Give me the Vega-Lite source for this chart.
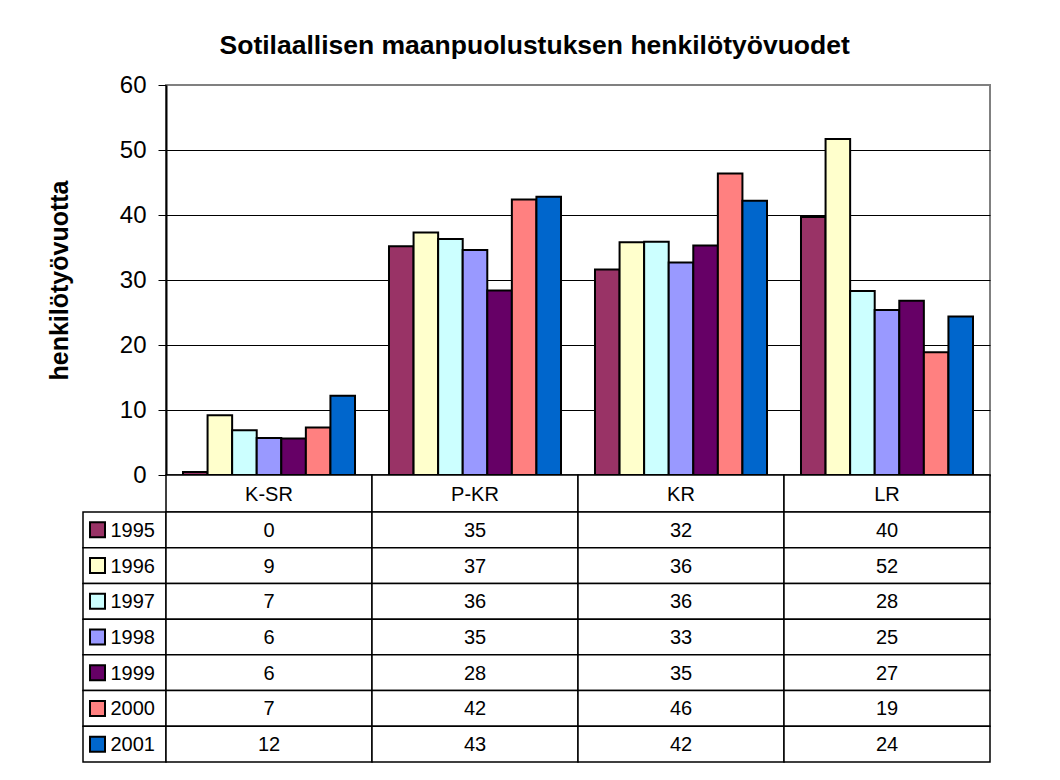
{
  "$schema": "https://vega.github.io/schema/vega-lite/v6.json",
  "background": "white",
  "padding": {"left": 46, "top": 32, "right": 5, "bottom": 5},
  "title": {"text": "Sotilaallisen maanpuolustuksen henkilötyövuodet", "fontSize": 26.5, "font": "Liberation Sans", "fontWeight": "bold", "color": "black", "anchor": "middle", "offset": 13, "dx": 16},
  "config": {"font": "Liberation Sans", "view": {"stroke": null}},
  "datasets": {
    "vals": [
      {"cat": "K-SR", "year": "1995", "v": 0.45},
      {"cat": "K-SR", "year": "1996", "v": 9.2},
      {"cat": "K-SR", "year": "1997", "v": 6.9},
      {"cat": "K-SR", "year": "1998", "v": 5.7},
      {"cat": "K-SR", "year": "1999", "v": 5.6},
      {"cat": "K-SR", "year": "2000", "v": 7.3},
      {"cat": "K-SR", "year": "2001", "v": 12.2},
      {"cat": "P-KR", "year": "1995", "v": 35.2},
      {"cat": "P-KR", "year": "1996", "v": 37.3},
      {"cat": "P-KR", "year": "1997", "v": 36.3},
      {"cat": "P-KR", "year": "1998", "v": 34.6},
      {"cat": "P-KR", "year": "1999", "v": 28.4},
      {"cat": "P-KR", "year": "2000", "v": 42.4},
      {"cat": "P-KR", "year": "2001", "v": 42.8},
      {"cat": "KR", "year": "1995", "v": 31.6},
      {"cat": "KR", "year": "1996", "v": 35.8},
      {"cat": "KR", "year": "1997", "v": 35.9},
      {"cat": "KR", "year": "1998", "v": 32.7},
      {"cat": "KR", "year": "1999", "v": 35.3},
      {"cat": "KR", "year": "2000", "v": 46.4},
      {"cat": "KR", "year": "2001", "v": 42.2},
      {"cat": "LR", "year": "1995", "v": 39.7},
      {"cat": "LR", "year": "1996", "v": 51.7},
      {"cat": "LR", "year": "1997", "v": 28.3},
      {"cat": "LR", "year": "1998", "v": 25.4},
      {"cat": "LR", "year": "1999", "v": 26.8},
      {"cat": "LR", "year": "2000", "v": 18.9},
      {"cat": "LR", "year": "2001", "v": 24.4}
    ]
  },
  "columns": 2,
  "spacing": 0,
  "bounds": "flush",
  "align": "each",
  "concat": [
    {
      "width": 83, "height": 390,
      "data": {"values": [{}]},
      "mark": {"type": "text", "text": ""},
      "encoding": {}
    },
    {
      "width": 824, "height": 390,
      "view": {"stroke": "#808080", "strokeWidth": 2},
      "data": {"name": "vals"},
      "mark": {"type": "bar", "stroke": "black", "strokeWidth": 2, "opacity": 1},
      "encoding": {
        "x": {"field": "cat", "type": "nominal", "sort": ["K-SR", "P-KR", "KR", "LR"],
              "scale": {"domain": ["K-SR", "P-KR", "KR", "LR"], "paddingInner": 0.165, "paddingOuter": 0.0825},
              "axis": {"labels": false, "ticks": false, "title": null, "domain": true, "domainColor": "black", "domainWidth": 2}},
        "xOffset": {"field": "year", "type": "nominal", "scale": {"paddingInner": 0, "paddingOuter": 0}},
        "y": {"field": "v", "type": "quantitative", "scale": {"domain": [0, 60], "nice": false},
              "axis": {"values": [0, 10, 20, 30, 40, 50, 60], "title": "henkilötyövuotta", "titleFontSize": 25, "titleFontWeight": "bold", "titleColor": "black", "titlePadding": 47,
                       "labelFontSize": 24, "labelColor": "black", "labelPadding": 12, "tickSize": 8, "tickColor": "black", "tickWidth": 1,
                       "domainColor": "black", "domainWidth": 2, "grid": true,
                       "gridColor": {"condition": {"test": "datum.value == 60", "value": "#808080"}, "value": "black"}, "gridWidth": 1}},
        "color": {"field": "year", "type": "nominal",
                  "scale": {"domain": ["1995", "1996", "1997", "1998", "1999", "2000", "2001"], "range": ["#993366", "#FFFFCC", "#CCFFFF", "#9999FF", "#660066", "#FF8080", "#0066CC"]},
                  "legend": null}
      }
    },
    {
      "width": 83, "height": 37,
      "data": {"values": [{}]},
      "mark": {"type": "text", "text": ""},
      "encoding": {}
    },
    {
      "width": 824, "height": 37,
      "data": {"name": "vals"},
      "transform": [{"aggregate": [{"op": "count", "as": "n"}], "groupby": ["cat"]}],
      "encoding": {
        "x": {"field": "cat", "type": "nominal", "scale": {"domain": ["K-SR", "P-KR", "KR", "LR"], "paddingInner": 0, "paddingOuter": 0}, "axis": null}
      },
      "layer": [
        {"mark": {"type": "rect", "fill": "white", "stroke": "black", "strokeWidth": 1.5}},
        {"mark": {"type": "text", "fontSize": 20, "color": "black", "baseline": "middle", "dy": 1}, "encoding": {"text": {"field": "cat"}}}
      ]
    },
    {
      "width": 83, "height": 250,
      "data": {"name": "vals"},
      "transform": [{"aggregate": [{"op": "count", "as": "n"}], "groupby": ["year"]}],
      "encoding": {
        "y": {"field": "year", "type": "nominal", "scale": {"domain": ["1995", "1996", "1997", "1998", "1999", "2000", "2001"], "paddingInner": 0, "paddingOuter": 0}, "axis": null}
      },
      "layer": [
        {"mark": {"type": "rect", "fill": "white", "stroke": "black", "strokeWidth": 1.5}},
        {"mark": {"type": "point", "shape": "square", "filled": true, "size": 225, "stroke": "black", "strokeWidth": 2, "opacity": 1, "xOffset": -27},
         "encoding": {"color": {"field": "year", "type": "nominal",
                  "scale": {"domain": ["1995", "1996", "1997", "1998", "1999", "2000", "2001"], "range": ["#993366", "#FFFFCC", "#CCFFFF", "#9999FF", "#660066", "#FF8080", "#0066CC"]},
                  "legend": null}}},
        {"mark": {"type": "text", "fontSize": 20, "color": "black", "align": "left", "baseline": "middle", "dy": 1, "xOffset": -14}, "encoding": {"text": {"field": "year"}}}
      ]
    },
    {
      "width": 824, "height": 250,
      "data": {"name": "vals"},
      "encoding": {
        "x": {"field": "cat", "type": "nominal", "scale": {"domain": ["K-SR", "P-KR", "KR", "LR"], "paddingInner": 0, "paddingOuter": 0}, "axis": null},
        "y": {"field": "year", "type": "nominal", "scale": {"domain": ["1995", "1996", "1997", "1998", "1999", "2000", "2001"], "paddingInner": 0, "paddingOuter": 0}, "axis": null}
      },
      "layer": [
        {"mark": {"type": "rect", "fill": "white", "stroke": "black", "strokeWidth": 1.5}},
        {"mark": {"type": "text", "fontSize": 20, "color": "black", "baseline": "middle", "dy": 1}, "encoding": {"text": {"field": "v", "type": "quantitative", "format": ".0f"}}}
      ]
    }
  ]
}
